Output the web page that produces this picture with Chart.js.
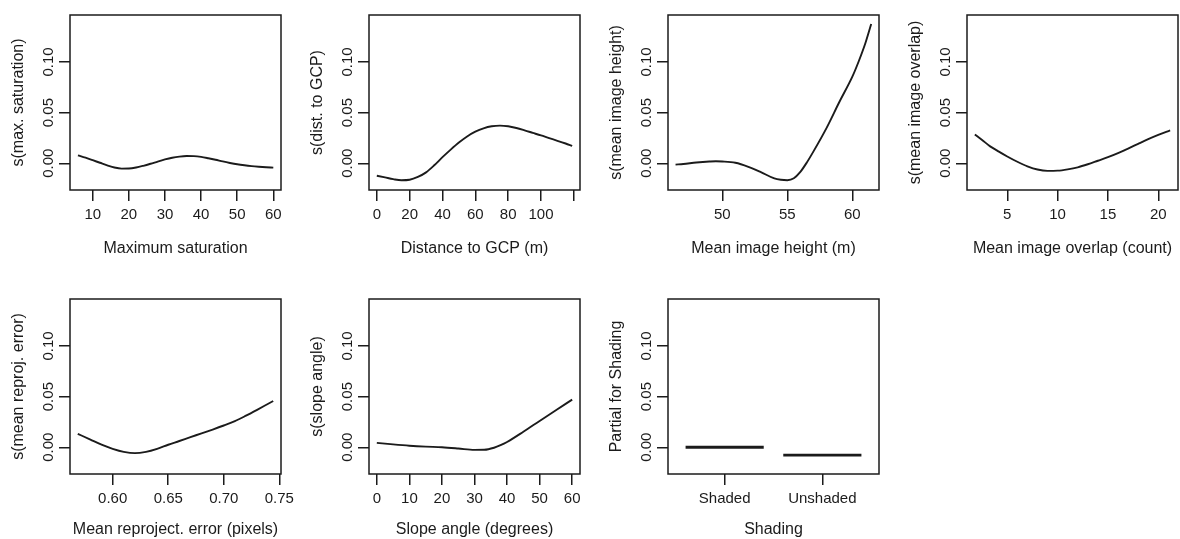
<!DOCTYPE html>
<html>
<head>
<meta charset="utf-8">
<script src="https://cdn.jsdelivr.net/npm/chart.js@4/dist/chart.umd.min.js"></script>
<style>
  html, body { margin: 0; padding: 0; background: #fff; overflow: hidden; }
  body { position: relative; width: 1180px; height: 539px; }
  canvas { position: absolute; }
</style>
</head>
<body>
<script>
// partial effect values
const yTicks = [0, 0.05, 0.1];

const maxSatX = [5.9, 8, 10, 12, 14, 16, 18, 20, 22, 24, 26, 28, 30, 32, 34, 36, 38, 40, 42, 44, 46, 48, 50, 52, 54, 56, 58, 60];
const maxSatY = [0.0078, 0.0055, 0.003, 0.0005, -0.002, -0.0042, -0.0053, -0.0052, -0.0042, -0.0025, -0.0005, 0.0017, 0.0038, 0.0055, 0.0066, 0.0071, 0.007, 0.0063, 0.005, 0.0035, 0.0018, 0.0003, -0.001, -0.002, -0.0028, -0.0034, -0.0039, -0.0043];
const maxSatTicks = [10, 20, 30, 40, 50, 60];

const gcpX = [0, 5, 10, 15, 20, 25, 30, 35, 40, 45, 50, 55, 60, 65, 70, 75, 80, 85, 90, 95, 100, 105, 110, 115, 119];
const gcpY = [-0.0123, -0.014, -0.0157, -0.0168, -0.0163, -0.0135, -0.009, -0.002, 0.006, 0.0135, 0.0205, 0.0265, 0.0312, 0.0345, 0.0365, 0.0372, 0.0365, 0.0348, 0.0325, 0.03, 0.0275, 0.0248, 0.0222, 0.0195, 0.0172];
const gcpTicks = [0, 20, 40, 60, 80, 100, 120];

const heightX = [46.4, 47, 48, 49, 49.5, 50, 51, 52, 53, 54, 54.5, 55, 55.5, 56, 56.5, 57, 58, 59, 60, 60.5, 61, 61.45];
const heightY = [-0.0013, -0.0007, 0.0007, 0.0017, 0.002, 0.0018, 0.0005, -0.0035, -0.009, -0.015, -0.0163, -0.0167, -0.0148, -0.0085, 0.0008, 0.0115, 0.0345, 0.0605, 0.0855, 0.101, 0.1185, 0.1375];
const heightTicks = [50, 55, 60];

const overlapX = [1.78, 2.5, 3.3, 4, 5, 6, 7, 8, 9, 10, 11, 12, 13, 14, 15, 16, 17, 18, 19, 20, 21.18];
const overlapY = [0.0285, 0.023, 0.0167, 0.0125, 0.0067, 0.0015, -0.003, -0.0062, -0.0075, -0.0073, -0.006, -0.004, -0.001, 0.0025, 0.006, 0.01, 0.0145, 0.0192, 0.0238, 0.028, 0.0325];
const overlapTicks = [5, 10, 15, 20];

const reprojX = [0.5686, 0.58, 0.59, 0.6, 0.61, 0.62, 0.63, 0.64, 0.65, 0.66, 0.67, 0.68, 0.69, 0.7, 0.71, 0.72, 0.73, 0.74, 0.7445];
const reprojY = [0.0133, 0.0075, 0.0025, -0.0015, -0.0045, -0.0058, -0.0045, -0.0015, 0.0025, 0.0062, 0.01, 0.0137, 0.0175, 0.0215, 0.0258, 0.0312, 0.037, 0.043, 0.0457];
const reprojTicks = [0.6, 0.65, 0.7, 0.75];

const slopeX = [0, 5, 10, 15, 20, 25, 30, 33, 36, 38, 40, 45, 50, 55, 60];
const slopeY = [0.0043, 0.0028, 0.0015, 0.0006, 0, -0.0012, -0.0026, -0.0025, -0.0005, 0.002, 0.0052, 0.0153, 0.026, 0.0366, 0.047];
const slopeTicks = [0, 10, 20, 30, 40, 50, 60];

const shadingCats = ['Shaded', 'Unshaded'];
const shadingY = [0, -0.0077];

const ink = '#1b1b1b';
Chart.defaults.font.family = '"Liberation Sans", Arial, Helvetica, sans-serif';
Chart.defaults.color = ink;

const boxW = 211, boxH = 175;
const padL = 70, padT = 15, padR = 25, padB = 70;

// R-style frame round the plot region
const frame = {
  id: 'frame',
  afterDraw(chart) {
    const a = chart.chartArea, ctx = chart.ctx;
    ctx.save();
    ctx.strokeStyle = ink;
    ctx.lineWidth = 1.5;
    ctx.strokeRect(a.left, a.top, a.right - a.left, a.bottom - a.top);
    ctx.restore();
  }
};

function curve(xs, ys) {
  return [{ x: xs, y: ys, w: 1.9 }];
}

function panel(p) {
  const cv = document.createElement('canvas');
  cv.width = padL + boxW + padR;
  cv.height = padT + boxH + padB;
  cv.style.left = (p.left - padL) + 'px';
  cv.style.top = (p.top - padT) + 'px';
  document.body.appendChild(cv);

  new Chart(cv, {
    type: 'line',
    data: {
      datasets: p.series.map(s => ({
        data: s.x.map((v, i) => ({ x: v, y: s.y[i] })),
        borderColor: ink,
        borderWidth: s.w,
        pointRadius: 0,
        cubicInterpolationMode: 'monotone',
        fill: false
      }))
    },
    options: {
      responsive: false,
      animation: false,
      events: [],
      layout: { padding: { left: 0, top: padT, right: padR, bottom: 0 } },
      plugins: { legend: { display: false }, tooltip: { enabled: false } },
      scales: {
        x: {
          type: 'linear',
          min: p.xMin,
          max: p.xMax,
          afterBuildTicks: s => { s.ticks = p.xTicks.map(v => ({ value: v })); },
          afterFit: s => { s.height = padB; },
          grid: { drawOnChartArea: false, tickLength: 11, color: ink, lineWidth: 1.5 },
          border: { display: false },
          ticks: { autoSkip: false, maxRotation: 0, padding: 5, font: { size: 15 }, color: ink, callback: p.xLabel },
          title: { display: true, text: p.xTitle, font: { size: 16 }, color: ink, padding: { top: 0, bottom: p.titlePad } }
        },
        y: {
          min: -0.0264,
          max: 0.1464,
          afterBuildTicks: s => { s.ticks = yTicks.map(v => ({ value: v })); },
          afterFit: s => { s.width = padL; },
          grid: { drawOnChartArea: false, tickLength: 11, color: ink, lineWidth: 1.5 },
          border: { display: false },
          ticks: { autoSkip: false, minRotation: 90, maxRotation: 90, crossAlign: 'center', padding: -4,
                   font: { size: 15 }, color: ink, callback: v => v.toFixed(2) },
          title: { display: true, text: p.yTitle, font: { size: 16 }, color: ink, padding: { top: 9.4, bottom: 0 } }
        }
      }
    },
    plugins: [frame]
  });
}

const cols = [70, 369, 668, 967];
const rows = [15, 299];
const plain = v => String(v);

panel({ left: cols[0], top: rows[0], xMin: 3.7, xMax: 62.13, xTicks: maxSatTicks, xLabel: plain,
        xTitle: 'Maximum saturation', yTitle: 's(max. saturation)', titlePad: 2, series: curve(maxSatX, maxSatY) });
panel({ left: cols[1], top: rows[0], xMin: -4.76, xMax: 123.76, xTicks: gcpTicks, xLabel: v => v === 120 ? '' : String(v),
        xTitle: 'Distance to GCP (m)', yTitle: 's(dist. to GCP)', titlePad: 2, series: curve(gcpX, gcpY) });
panel({ left: cols[2], top: rows[0], xMin: 45.82, xMax: 62.05, xTicks: heightTicks, xLabel: plain,
        xTitle: 'Mean image height (m)', yTitle: 's(mean image height)', titlePad: 2, series: curve(heightX, heightY) });
panel({ left: cols[3], top: rows[0], xMin: 1.0, xMax: 21.96, xTicks: overlapTicks, xLabel: plain,
        xTitle: 'Mean image overlap (count)', yTitle: 's(mean image overlap)', titlePad: 2, series: curve(overlapX, overlapY) });
panel({ left: cols[0], top: rows[1], xMin: 0.5616, xMax: 0.7515, xTicks: reprojTicks, xLabel: v => v.toFixed(2),
        xTitle: 'Mean reproject. error (pixels)', yTitle: 's(mean reproj. error)', titlePad: 5, series: curve(reprojX, reprojY) });
panel({ left: cols[1], top: rows[1], xMin: -2.4, xMax: 62.4, xTicks: slopeTicks, xLabel: plain,
        xTitle: 'Slope angle (degrees)', yTitle: 's(slope angle)', titlePad: 5, series: curve(slopeX, slopeY) });
panel({ left: cols[2], top: rows[1], xMin: 0.42, xMax: 2.58, xTicks: [1, 2], xLabel: v => shadingCats[v - 1],
        xTitle: 'Shading', yTitle: 'Partial for Shading', titlePad: 5,
        series: shadingCats.map((c, i) => ({ x: [i + 0.6, i + 1.4], y: [shadingY[i], shadingY[i]], w: 2.8 })) });
</script>
</body>
</html>
